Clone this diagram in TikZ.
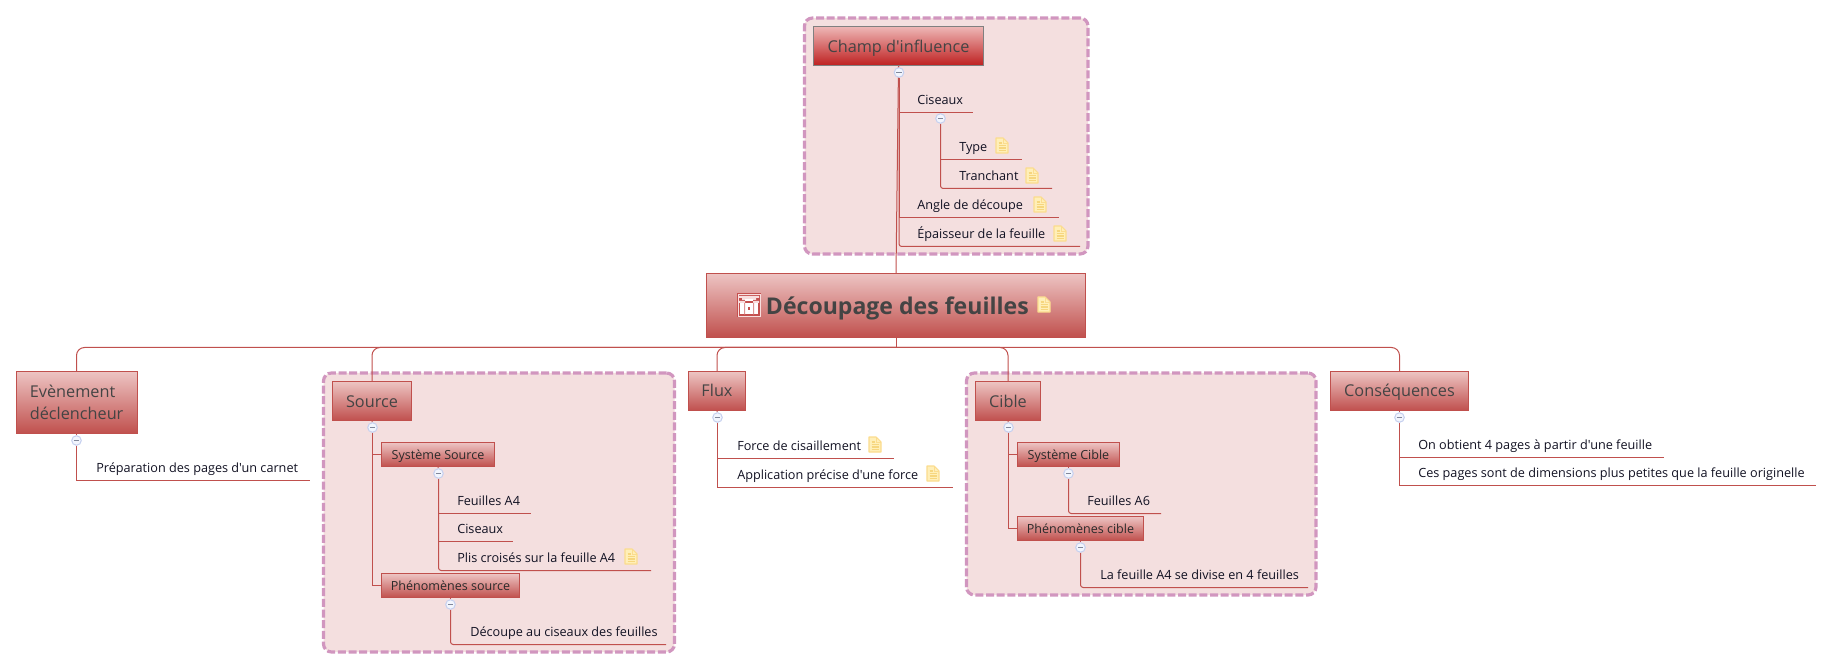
\documentclass[tikz,border=0pt]{standalone}
\usepackage{fontspec}
\setmainfont{Open Sans}[Ligatures=TeXOff]
\usetikzlibrary{shapes.geometric}
\definecolor{ln}{HTML}{C0504D}
\definecolor{bdash}{HTML}{D196BF}
\definecolor{bfill}{HTML}{F4DFDF}
\definecolor{toptxt}{HTML}{444444}
\definecolor{subtxt}{HTML}{2A2A2A}
\definecolor{leaftxt}{HTML}{111122}
\definecolor{notefill}{HTML}{FFEFB8}
\definecolor{notebd}{HTML}{FBDC8E}
\definecolor{noteln}{HTML}{F6D67E}
\definecolor{tA}{HTML}{EDC4C3}
\definecolor{champA}{HTML}{EEB7B6}
\definecolor{champB}{HTML}{BE2020}
\definecolor{collfill}{HTML}{F2F5FD}
\definecolor{collring}{HTML}{C5D0EF}
\definecolor{iconred}{HTML}{C4504E}
\definecolor{iconpale}{HTML}{F8DEDE}
\pgfdeclarelayer{bg}\pgfdeclarelayer{lines}
\pgfsetlayers{bg,lines,main}
\tikzset{
  x=0.75pt,y=-0.75pt,
  boundarybox/.style={draw=bdash,fill=bfill,line width=2.4pt,dash pattern=on 6pt off 2pt,rounded corners=6pt,inner sep=0pt},
  topicbox/.style={draw=ln,line width=.75pt,inner sep=0pt,top color=tA,bottom color=ln,text=toptxt},
  bigtopic/.style={topicbox,font=\fontsize{12.2}{17}\selectfont},
  subtopic/.style={topicbox,font=\fontsize{9.4}{12}\selectfont,text=subtxt},
  leaftext/.style={anchor=base west,inner sep=0pt,font=\fontsize{9.5}{12}\selectfont,text=leaftxt},
  conn/.style={draw=ln,line width=.75pt},
  collapse/.style={circle,draw=collring,fill=collfill,line width=.75pt,minimum size=7.2pt,inner sep=0pt},
  notepic/.pic={
    \draw[draw=notebd,fill=notefill,line width=.8pt,line join=round] (0,0) -- (7,0) -- (12,5) -- (12,15) -- (0,15) -- cycle;
    \draw[draw=notebd,line width=.6pt] (7,0) -- (7,5) -- (12,5);
    \draw[noteln,line width=1pt] (2.5,7.5) -- (9.5,7.5) (2.5,10) -- (9.5,10) (2.5,12.5) -- (9.5,12.5) (2.5,5) -- (5.5,5);
  },
  rooticon/.pic={
    \fill[iconred] (0,0) rectangle (24,24);
    \draw[iconpale,line width=.6pt] (1,1) rectangle (23,23);
    \fill[iconpale] (2,3) rectangle (22,5) (5,5) rectangle (19,7);
    \fill[white] (8,6) rectangle (16,8.5);
    \fill[iconpale] (2,8) rectangle (8,10) (16,8) rectangle (22,10);
    \fill[white] (3,10) rectangle (21,21.5);
    \fill[iconred!60] (7,10) rectangle (8,21.5) (16,10) rectangle (17,21.5);
    \fill[iconred] (11,14) rectangle (13,17.5);
  }
}
% #1 extra, #2 name, #3 x0, #4 y0, #5 x1, #6 y1, #7 baseline y, #8 text
\newcommand{\topicnode}[8][bigtopic]{%
  \pgfmathsetmacro\tw{(#5-#3)*0.75}\pgfmathsetmacro\th{(#7-#4)*0.75}\pgfmathsetmacro\td{(#6-#7)*0.75}%
  \node[#1,minimum width=\tw pt,text height=\th pt,text depth=\td pt] (#2) at ({(#3+#5)/2},{(#4+#6)/2}) {#8};}
\newcommand{\areanode}[5]{%
  \pgfmathsetmacro\tw{(#4-#2)*0.75}\pgfmathsetmacro\th{(#5-#3)*0.75}%
  \node[boundarybox,minimum width=\tw pt,minimum height=\th pt] (#1) at ({(#2+#4)/2},{(#3+#5)/2}) {};}
\newcommand{\collnode}[3]{%
  \node[collapse] (#1) at (#2,#3) {};
  \draw[color=black!35!collring,line width=.75pt] ([xshift=-1.9pt]#1.center) -- ([xshift=1.9pt]#1.center);}
% name, text x, underline y, underline end x, text
\newcommand{\leafnode}[5]{%
  \node[leaftext] (#1) at (#2,#3-8) {#5};
  \coordinate (#1e) at (#4,#3);}
\begin{document}
\begin{tikzpicture}
\useasboundingbox (0,0) rectangle (1832,670);
\begin{pgfonlayer}{bg}
\areanode{areaC}{804.5}{18}{1088}{254}
\areanode{areaS}{323.5}{373}{674.5}{652}
\areanode{areaT}{966.5}{373}{1316}{595}
\end{pgfonlayer}

% main topics
\topicnode[topicbox,font=\fontsize{17.3}{22}\selectfont\bfseries]{root}{706.5}{273.5}{1085.5}{337.5}{315}{\hspace{2pt}Découpage des feuilles}
\topicnode[bigtopic,draw=black!50,top color=champA,bottom color=champB]{champ}{813.5}{26.5}{983.5}{65.5}{52.5}{Champ d'influence}
\topicnode{src}{332.5}{381.5}{411.5}{420.5}{407}{Source}
\topicnode{flux}{688.5}{371.5}{745.5}{410.5}{397}{Flux}
\topicnode{cible}{975.5}{381.5}{1040.5}{420.5}{407}{Cible}
\topicnode{cons}{1330.5}{371.5}{1468.5}{410.5}{397}{Conséquences}
\node[bigtopic,minimum width=90.75pt,minimum height=46.5pt,text width=70pt,align=left] (evt) at (76.5,402.5) {Evènement\\déclencheur};
\topicnode[subtopic]{syssrc}{381.5}{442.5}{494.5}{466.5}{459}{Système Source}
\topicnode[subtopic]{phesrc}{381.5}{573.5}{519.5}{597.5}{590}{Phénomènes source}
\topicnode[subtopic]{syscib}{1017.5}{442.5}{1119.5}{466.5}{459}{Système Cible}
\topicnode[subtopic]{phecib}{1017.5}{516.5}{1143.5}{540.5}{533}{Phénomènes cible}

% collapse buttons
\collnode{cchamp}{899}{72.5}
\collnode{cciseaux}{940.5}{118.5}
\collnode{cevt}{76.5}{440.5}
\collnode{csrc}{372.5}{427.5}
\collnode{csys}{438.5}{473.5}
\collnode{cphe}{450.5}{604.5}
\collnode{cflux}{717.5}{417.5}
\collnode{ccib}{1008.5}{427.5}
\collnode{csyc}{1068.5}{473.5}
\collnode{cphc}{1080.5}{547.5}
\collnode{ccons}{1399.5}{417.5}

% leaves
\leafnode{ciseaux}{917}{112.5}{973}{Ciseaux}
\leafnode{typ}{959}{159.5}{1022}{Type}
\leafnode{tran}{959}{188.5}{1052}{Tranchant}
\leafnode{angle}{917}{217.5}{1059}{Angle de découpe}
\leafnode{epai}{917}{246.5}{1080}{Épaisseur de la feuille}
\leafnode{prep}{96}{480.5}{310}{Préparation des pages d'un carnet}
\leafnode{fa}{457}{513.5}{531}{Feuilles A4}
\leafnode{cis}{457}{541.5}{513}{Ciseaux}
\leafnode{plis}{457}{570.5}{651}{Plis croisés sur la feuille A4}
\leafnode{dec}{470}{644.5}{666}{Découpe au ciseaux des feuilles}
\leafnode{force}{737}{458.5}{894}{Force de cisaillement}
\leafnode{appl}{737}{487.5}{953}{Application précise d'une force}
\leafnode{fsix}{1087}{513.5}{1161}{Feuilles A6}
\leafnode{div}{1100}{587.5}{1308}{La feuille A4 se divise en 4 feuilles}
\leafnode{obt}{1418}{457.5}{1664}{On obtient 4 pages à partir d'une feuille}
\leafnode{ces}{1418}{485.5}{1816}{Ces pages sont de dimensions plus petites que la feuille originelle}

% connectors
\begin{pgfonlayer}{lines}
\coordinate (hub) at (896,347.5);
\draw[conn] (root.south) -- (hub);
\draw[conn] (root.north) -- (champ.south);
\draw[conn,rounded corners=6pt] (hub) -| (evt.north);
\draw[conn,rounded corners=6pt] (hub) -| (src.north);
\draw[conn,rounded corners=6pt] (hub) -| (flux.north);
\draw[conn,rounded corners=6pt] (hub) -| (cible.north);
\draw[conn,rounded corners=6pt] (hub) -| (cons.north);

\draw[conn] (champ.south) -- (cchamp);
\draw[conn] (cchamp) |- (ciseauxe);
\draw[conn] (cchamp) |- (anglee);
\draw[conn,rounded corners=2pt] (cchamp) |- (epaie);
\draw[conn] (cciseaux) -- (cciseaux|-ciseauxe);
\draw[conn] (cciseaux) |- (type);
\draw[conn,rounded corners=2pt] (cciseaux) |- (trane);

\draw[conn] (evt.south) -- (cevt);
\draw[conn] (cevt) |- (prepe);

\draw[conn] (src.south) -- (csrc);
\draw[conn] (csrc) |- (syssrc.west);
\draw[conn] (csrc) |- (phesrc.west);
\draw[conn] (syssrc.south) -- (csys);
\draw[conn] (csys) |- (fae);
\draw[conn] (csys) |- (cise);
\draw[conn,rounded corners=2pt] (csys) |- (plise);
\draw[conn] (phesrc.south) -- (cphe);
\draw[conn,rounded corners=2pt] (cphe) |- (dece);

\draw[conn] (flux.south) -- (cflux);
\draw[conn] (cflux) |- (forcee);
\draw[conn] (cflux) |- (apple);

\draw[conn] (cible.south) -- (ccib);
\draw[conn] (ccib) |- (syscib.west);
\draw[conn] (ccib) |- (phecib.west);
\draw[conn] (syscib.south) -- (csyc);
\draw[conn,rounded corners=2pt] (csyc) |- (fsixe);
\draw[conn] (phecib.south) -- (cphc);
\draw[conn,rounded corners=2pt] (cphc) |- (dive);

\draw[conn] (cons.south) -- (ccons);
\draw[conn] (ccons) |- (obte);
\draw[conn] (ccons) |- (cese);
\end{pgfonlayer}

% note icons
\pic at (1038,297) {notepic};
\pic at (737,293) {rooticon};
\pic at (996,138) {notepic};
\pic at (1026,168) {notepic};
\pic at (1034,197) {notepic};
\pic at (1054,226) {notepic};
\pic at (625,549) {notepic};
\pic at (869,437) {notepic};
\pic at (927,466) {notepic};
\end{tikzpicture}
\end{document}
